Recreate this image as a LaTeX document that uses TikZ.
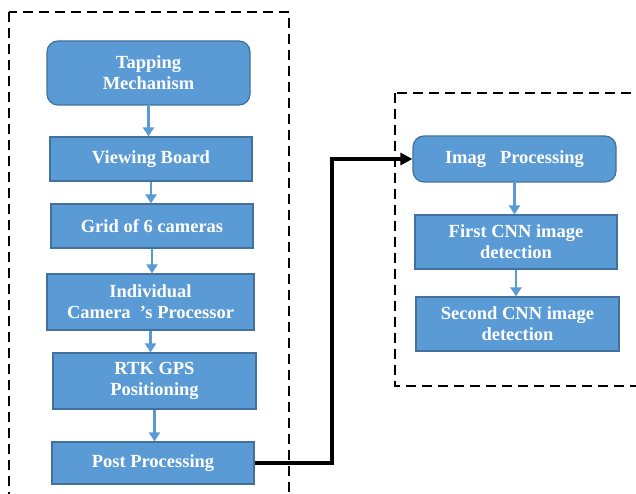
\documentclass[tikz,border=0pt]{standalone}
\usepackage{fontspec}
\setmainfont{Liberation Serif}[BoldFont={Liberation Serif Bold}]
\usetikzlibrary{arrows.meta}
\definecolor{boxfill}{HTML}{5B9BD5}
\definecolor{boxline}{HTML}{41719C}
\tikzset{
  blk/.style={draw=boxline, line width=1.2pt, fill=boxfill, text=white,
    font=\rmfamily\bfseries\fontsize{18.5}{21}\selectfont, align=center, inner sep=2pt},
  rblk/.style={blk, rounded corners=11pt},
  flow/.style={draw=boxfill, line width=2.6pt, -{Triangle[length=9pt,width=11pt]}},
  link/.style={draw=black, line width=4pt, -{Triangle[length=12pt,width=12pt]}},
  frame/.style={draw=black, line width=2.4pt, dash pattern=on 10pt off 6pt}
}
\begin{document}
\begin{tikzpicture}[x=1pt,y=-1pt]
\useasboundingbox (0,0) rectangle (636,494);
\clip (0,0) rectangle (636,494);
\draw[frame] (9,12) rectangle (289,520);
\draw[frame] (395,93) rectangle (660,386);

\node[rblk, minimum width=203pt, minimum height=64pt] (tap) at (148.5,73) {Tapping\\Mechanism};
\node[blk, minimum width=202pt, minimum height=44pt] (view) at (151,159) {Viewing Board};
\node[blk, minimum width=202pt, minimum height=44pt] (grid) at (152,226) {Grid of 6 cameras};
\node[blk, minimum width=207pt, minimum height=56pt] (ind) at (150.5,302) {Individual\\Camera\ \ ’s Processor};
\node[blk, minimum width=203pt, minimum height=56pt] (rtk) at (154.5,381) {RTK GPS\\Positioning};
\node[blk, minimum width=202pt, minimum height=42pt] (post) at (153,463) {Post Processing};

\node[rblk, minimum width=203pt, minimum height=46pt] (imag) at (514.5,159) {Imag\ \ \ Processing};
\node[blk, minimum width=202pt, minimum height=54pt] (cnn1) at (516,242) {First CNN image\\detection};
\node[blk, minimum width=203pt, minimum height=54pt] (cnn2) at (517.5,324) {Second CNN image\\detection};

\draw[flow] (tap.south) -- (tap.south |- view.north);
\draw[flow] (view.south) -- (view.south |- grid.north);
\draw[flow] (grid.south) -- (grid.south |- ind.north);
\draw[flow] (ind.south) -- (ind.south |- rtk.north);
\draw[flow] (rtk.south) -- (rtk.south |- post.north);
\draw[flow] (imag.south) -- (imag.south |- cnn1.north);
\draw[flow] (cnn1.south) -- (cnn1.south |- cnn2.north);

\coordinate (bend) at (332,0);
\draw[link] (post.east) -- (post.east -| bend) |- (imag.west);
\end{tikzpicture}
\end{document}
